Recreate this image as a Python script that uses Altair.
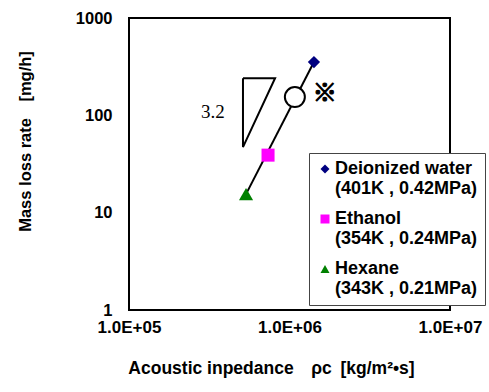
import altair as alt
import pandas as pd

# ---- data ----
liquids = ["Deionized water", "Ethanol", "Hexane"]
conditions = ["(401K , 0.42MPa)", "(354K , 0.24MPa)", "(343K , 0.21MPa)"]
impedance = [1.42e6, 7.35e5, 5.36e5]
mass_loss = [353, 39, 15.5]
colors = ["#000080", "#FF00FF", "#008000"]
shapes = ["diamond", "square", "triangle-up"]
point_sizes = [150, 170, 200]

fit_x = [5.36e5, 1.42e6]
fit_y = [15.5, 353]

mark_x = [1.08e6]
mark_y = [154]

tri_x = [5.13e5, 8.13e5, 5.13e5, 5.13e5]
tri_y = [241, 241, 47.2, 241]

slope_text = ["3.2"]
slope_x = [3.33e5]
slope_y = [108]

note_text = ["※"]
note_x = [1.66e6]
note_y = [166]

x_ticks = [1e5, 1e6, 1e7]
x_tick_labels = ["1.0E+05", "1.0E+06", "1.0E+07"]
y_ticks = [1, 10, 100, 1000]

FONT = "Liberation Sans"

# ---- tables ----
keys = [f"{a}|{b}" for a, b in zip(liquids, conditions)]
pts = pd.DataFrame({"liquid": keys, "x": impedance, "y": mass_loss, "size": point_sizes})
fit = pd.DataFrame({"x": fit_x, "y": fit_y})
circ = pd.DataFrame({"x": mark_x, "y": mark_y})
tri = pd.DataFrame({"x": tri_x, "y": tri_y, "o": list(range(len(tri_x)))})
slope = pd.DataFrame({"x": slope_x, "y": slope_y, "t": slope_text})
note = pd.DataFrame({"x": note_x, "y": note_y, "t": note_text})

xscale = alt.Scale(type="log", domain=[1e5, 1e7], nice=False)
yscale = alt.Scale(type="log", domain=[1, 1000], nice=False)

x_label_expr = "[" + ",".join(f"'{s}'" for s in x_tick_labels) + "][round(log(datum.value)/LN10)-5]"

x_axis = alt.Axis(
    values=x_ticks, labelExpr=x_label_expr, grid=False, ticks=False, domain=False,
    labelFont=FONT, labelFontSize=17, labelFontWeight="bold", labelColor="black",
    labelPadding=9, labelFlush=False, labelOverlap=False,
    title="Acoustic inpedance\u2003ρc\u2002[kg/m²•s]",
    titleFont=FONT, titleFontSize=17.5, titleFontWeight="bold", titleColor="black",
    titleX=142, titleY=58, titleBaseline="middle", titleAlign="center", titleAnchor="middle",
)
y_axis = alt.Axis(
    values=y_ticks, format="d", grid=False, ticks=False, domain=False,
    labelFont=FONT, labelFontSize=16.5, labelFontWeight="bold", labelColor="black",
    labelPadding=17, labelFlush=False, labelOverlap=False,
    title="Mass loss rate\u2003[mg/h]",
    titleFont=FONT, titleFontSize=16.5, titleFontWeight="bold", titleColor="black",
    titleX=-104, titleY=123, titleBaseline="middle", titleAlign="center", titleAnchor="middle",
)

X = alt.X("x:Q", scale=xscale, axis=x_axis)
Y = alt.Y("y:Q", scale=yscale, axis=y_axis)
Xn = alt.X("x:Q", scale=xscale)
Yn = alt.Y("y:Q", scale=yscale)

legend = alt.Legend(
    title=None, orient="none", legendX=180, legendY=135,
    labelExpr="split(datum.label, '|')",
    labelFont=FONT, labelFontSize=18, labelFontWeight="bold", labelColor="black",
    labelLimit=400, labelOffset=1, symbolSize=81, symbolStrokeWidth=0,
    padding=7, fillColor="white", strokeColor="#444444", rowPadding=12,
)

line_layer = alt.Chart(fit).mark_line(color="black", strokeWidth=2).encode(x=X, y=Y)

tri_layer = alt.Chart(tri).mark_line(color="black", strokeWidth=2).encode(
    x=Xn, y=Yn, order="o:Q"
)

circ_layer = alt.Chart(circ).mark_point(
    shape="circle", filled=True, fill="white", stroke="black", strokeWidth=2, size=400, opacity=1
).encode(x=Xn, y=Yn)

pt_layer = alt.Chart(pts).mark_point(filled=True, opacity=1).encode(
    x=Xn, y=Yn,
    color=alt.Color("liquid:N", scale=alt.Scale(domain=keys, range=colors), legend=legend),
    shape=alt.Shape("liquid:N", scale=alt.Scale(domain=keys, range=shapes), legend=legend),
    size=alt.Size("size:Q", scale=None, legend=None),
)

slope_layer = alt.Chart(slope).mark_text(
    font="Liberation Serif", fontSize=19, color="black", align="center", baseline="middle"
).encode(x=Xn, y=Yn, text="t:N")

note_layer = alt.Chart(note).mark_text(
    font="Noto Sans CJK JP", fontSize=24, fontWeight="bold", color="black",
    align="center", baseline="middle", stroke="black", strokeWidth=1.2
).encode(x=Xn, y=Yn, text="t:N")

chart = alt.layer(
    line_layer, tri_layer, circ_layer, pt_layer, slope_layer, note_layer
).properties(
    width=321, height=292,
    autosize=alt.AutoSizeParams(type="none"),
    padding={"left": 129, "top": 18, "right": 39, "bottom": 82},
    background="white",
).configure_view(stroke="black", strokeWidth=2)

chart.save("out.html", embed_options={"renderer": "svg", "actions": False})
